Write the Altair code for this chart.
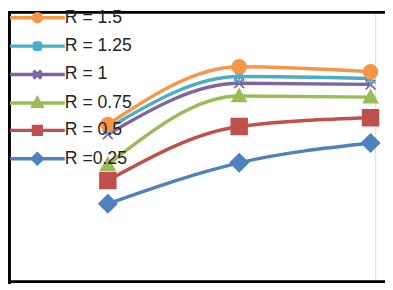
import altair as alt
import pandas as pd

series = ["R = 1.5", "R = 1.25", "R = 1", "R = 0.75", "R = 0.5", "R =0.25"]
colors = ["#F79646", "#4BACC6", "#8064A2", "#9BBB59", "#C0504D", "#4F81BD"]
x_vals = [1, 2, 3]
r150 = [58.1, 79.4, 77.6]
r125 = [56.7, 75.8, 75.1]
r100 = [54.5, 73.3, 72.9]
r075 = [43.3, 68.6, 68.2]
r050 = [37.5, 57.4, 60.6]
r025 = [28.9, 44.0, 51.3]
values = [r150, r125, r100, r075, r050, r025]

# marker shapes (unit paths)
marker_paths = [
    "M-1.4,0A1.4,1.4,0,1,1,1.4,0A1.4,1.4,0,1,1,-1.4,0Z",
    "M-1,-1L1,1M-1,1L1,-1M0,-1.3L0,1.3",
    "M-1,-1L1,1M-1,1L1,-1",
    "M0,-1.4L1.4,1.1L-1.4,1.1Z",
    "M-1.6,-1.6H1.6V1.6H-1.6Z",
    "M0,-1.8L1.8,0L0,1.8L-1.8,0Z",
]
legend_paths = [
    "M-5.6,0H5.6M-0.8,0A0.8,0.8,0,1,1,0.8,0A0.8,0.8,0,1,1,-0.8,0Z",
    "M-5.6,0H5.6M-0.8,-0.8L0.8,0.8M-0.8,0.8L0.8,-0.8M0,-1L0,1",
    "M-5.6,0H5.6M-0.8,-0.8L0.8,0.8M-0.8,0.8L0.8,-0.8",
    "M-5.6,0H5.6M0,-0.9L0.9,0.7L-0.9,0.7Z",
    "M-5.6,0H5.6M-0.8,-0.8H0.8V0.8H-0.8Z",
    "M-5.6,0H5.6M0,-1L1,0L0,1L-1,0Z",
]

rows = []
for s, vals in reversed(list(zip(series, values))):
    for xv, yv in zip(x_vals, vals):
        rows.append({"series": s, "x": xv, "y": yv})
df = pd.DataFrame(rows)

W, H = 385, 279
xs = alt.Scale(domain=[0.24, 3.11], nice=False, zero=False)
ys = alt.Scale(domain=[-0.72, 100], nice=False, zero=False)
X = alt.X("x:Q", scale=xs, axis=None)
Y = alt.Y("y:Q", scale=ys, axis=None)

lines = alt.Chart(df).mark_line(strokeWidth=3.5, interpolate="monotone").encode(
    x=X, y=Y,
    color=alt.Color("series:N", scale=alt.Scale(domain=series, range=colors), legend=None),
    detail="series:N",
)

points = alt.Chart(df).mark_point(filled=True, size=100, strokeWidth=1.8, opacity=1).encode(
    x=X, y=Y,
    fill=alt.Fill("series:N", scale=alt.Scale(domain=series, range=colors), legend=None),
    stroke=alt.Stroke("series:N", scale=alt.Scale(domain=series, range=colors), legend=None),
    shape=alt.Shape("series:N", scale=alt.Scale(domain=series, range=marker_paths), legend=None),
)

leg = alt.Legend(
    title=None, orient="none", legendX=-1, legendY=-2, padding=0,
    labelFont="Liberation Sans", labelFontSize=18, labelColor="#222222",
    symbolSize=100, symbolStrokeWidth=3.5, labelOffset=19, rowPadding=6,
    symbolOffset=22,
)
legend_layer = alt.Chart(df).transform_filter("false").mark_point(filled=True, opacity=1).encode(
    x=X, y=Y,
    fill=alt.Fill("series:N", scale=alt.Scale(domain=series, range=colors), legend=leg),
    stroke=alt.Stroke("series:N", scale=alt.Scale(domain=series, range=colors), legend=leg),
    shape=alt.Shape("series:N", scale=alt.Scale(domain=series, range=legend_paths), legend=leg),
)

one = pd.DataFrame({"a": [0]})
left = alt.Chart(one).mark_rule(color="black", strokeWidth=3).encode(
    x=alt.value(1.5), y=alt.value(0), y2=alt.value(H))
top = alt.Chart(one).mark_rule(color="black", strokeWidth=3).encode(
    x=alt.value(0), x2=alt.value(W), y=alt.value(1.5))
bottom = alt.Chart(one).mark_rule(color="black", strokeWidth=3).encode(
    x=alt.value(0), x2=alt.value(W), y=alt.value(276.5))
right = alt.Chart(one).mark_rule(color="#d9d9d9", strokeWidth=1).encode(
    x=alt.value(375.5), y=alt.value(0), y2=alt.value(275))

chart = alt.layer(right, lines, points, legend_layer, left, top, bottom).resolve_scale(
    color="independent", fill="independent", stroke="independent", shape="independent"
).properties(
    width=W, height=H, padding=0, autosize=alt.AutoSizeParams(type="none"),
    background="white",
).configure_view(stroke=None)

chart.save("out.html", embed_options={"renderer": "svg", "actions": False})
